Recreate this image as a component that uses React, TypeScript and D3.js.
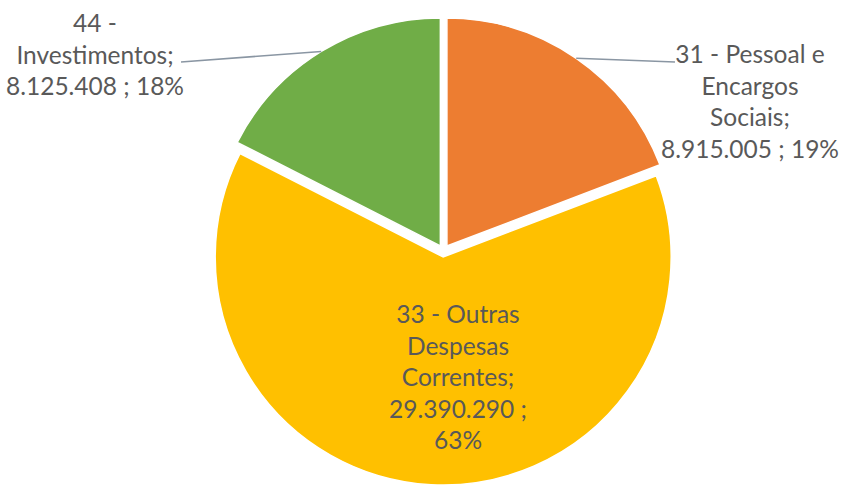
import React, { useEffect } from "react";
import * as d3 from "d3";

// ---- data ----
const categories = [
  "31 - Pessoal e Encargos Sociais",
  "33 - Outras Despesas Correntes",
  "44 - Investimentos",
];
const values = [8915005, 29390290, 8125408];
const percentLabels = ["19%", "63%", "18%"];
const valueLabels = ["8.915.005", "29.390.290", "8.125.408"];
const labelLines = [
  ["31 - Pessoal e", "Encargos", "Sociais;", "8.915.005 ; 19%"],
  ["33 - Outras", "Despesas", "Correntes;", "29.390.290 ;", "63%"],
  ["44 -", "Investimentos;", "8.125.408 ; 18%"],
];
const colors = ["#ED7D31", "#FFC000", "#70AD47"];

// ---- layout ----
const W = 841;
const H = 485;
const CX = 443.5;
const CY = 251;
const R = 228;
const EXPLODE = 6;
const LINE_H = 31.5;
const FONT = "Lato, 'Open Sans', sans-serif";
const FONT_SIZE = 24.5;
const TEXT_COLOR = "#595959";
// label block: center x, first baseline y, leader end (x,y) or null
const labelLayout = [
  { x: 750, y: 63, leader: [675, 62] },
  { x: 458, y: 323, leader: null },
  { x: 95, y: 32, leader: [181, 62] },
];

export default function App() {
  useEffect(() => {
    document.body.style.margin = "0";
  }, []);

  const pie = d3
    .pie<number>()
    .sort(null)
    .value((d) => d)
    .startAngle(0)
    .endAngle(2 * Math.PI);
  const arcs = pie(values);
  const arc = d3.arc<d3.PieArcDatum<number>>().innerRadius(0).outerRadius(R);

  return (
    <svg
      width={W}
      height={H}
      style={{ display: "block", position: "absolute", left: 0, top: 0, background: "#fff" }}
    >
      <rect width={W} height={H} fill="#ffffff" />
      {arcs.map((a, i) => {
        const mid = (a.startAngle + a.endAngle) / 2;
        const dx = Math.sin(mid) * EXPLODE;
        const dy = -Math.cos(mid) * EXPLODE;
        return (
          <g key={categories[i]} transform={`translate(${CX + dx},${CY + dy})`}>
            <path d={arc(a) || ""} fill={colors[i]} stroke="#ffffff" strokeWidth={1.5} />
          </g>
        );
      })}
      {arcs.map((a, i) => {
        const lay = labelLayout[i];
        if (!lay.leader) return null;
        const mid = (a.startAngle + a.endAngle) / 2;
        const cx = CX + Math.sin(mid) * EXPLODE;
        const cy = CY - Math.cos(mid) * EXPLODE;
        const px = cx + Math.sin(mid) * R;
        const py = cy - Math.cos(mid) * R;
        return (
          <line
            key={"l" + i}
            x1={px}
            y1={py}
            x2={lay.leader[0]}
            y2={lay.leader[1]}
            stroke="#8a96a3"
            strokeWidth={1.5}
          />
        );
      })}
      {labelLines.map((lines, i) => (
        <text
          key={"t" + i}
          x={labelLayout[i].x}
          y={labelLayout[i].y}
          textAnchor="middle"
          fontFamily={FONT}
          fontSize={FONT_SIZE}
          fill={TEXT_COLOR}
        >
          {lines.map((ln, j) => (
            <tspan key={j} x={labelLayout[i].x} y={labelLayout[i].y + j * LINE_H}>
              {ln}
            </tspan>
          ))}
        </text>
      ))}
    </svg>
  );
}
